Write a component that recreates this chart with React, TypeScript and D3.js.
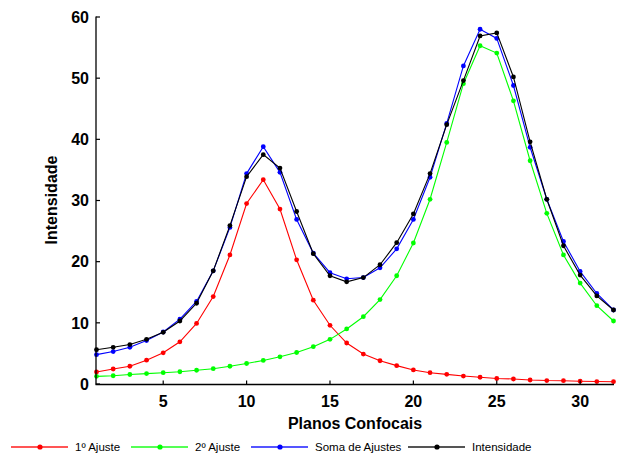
import React from "react";
import * as d3 from "d3";

const planos = [1, 2, 3, 4, 5, 6, 7, 8, 9, 10, 11, 12, 13, 14, 15, 16, 17, 18, 19, 20, 21, 22, 23, 24, 25, 26, 27, 28, 29, 30, 31, 32];

const ajuste1 = [1.96, 2.45, 2.9, 3.9, 5.1, 6.9, 9.9, 14.3, 21.1, 29.5, 33.4, 28.6, 20.3, 13.7, 9.6, 6.7, 4.9, 3.8, 3.0, 2.3, 1.85, 1.58, 1.3, 1.1, 0.9, 0.82, 0.65, 0.56, 0.54, 0.45, 0.4, 0.38];

const ajuste2 = [1.25, 1.35, 1.55, 1.7, 1.85, 2.0, 2.25, 2.5, 2.9, 3.35, 3.85, 4.45, 5.15, 6.1, 7.3, 9.0, 11.0, 13.8, 17.7, 23.05, 30.2, 39.5, 49.1, 55.3, 54.1, 46.3, 36.5, 27.9, 21.1, 16.5, 12.8, 10.3];

const somaAjustes = [4.8, 5.3, 6.0, 7.1, 8.5, 10.6, 13.5, 18.5, 25.6, 34.4, 38.8, 34.6, 26.9, 21.4, 18.2, 17.2, 17.4, 19.0, 22.1, 26.9, 33.8, 42.6, 52.0, 58.0, 56.5, 48.8, 38.7, 30.2, 23.3, 18.4, 14.8, 12.1];

const intensidade = [5.6, 6.0, 6.45, 7.3, 8.45, 10.3, 13.2, 18.5, 25.9, 33.9, 37.5, 35.3, 28.2, 21.3, 17.7, 16.7, 17.4, 19.5, 23.1, 27.8, 34.4, 42.4, 49.6, 56.9, 57.4, 50.2, 39.6, 30.2, 22.6, 17.8, 14.4, 12.1];

const xTicks = [5, 10, 15, 20, 25, 30];
const yTicks = [0, 10, 20, 30, 40, 50, 60];

const seriesNames = ["1º Ajuste", "2º Ajuste", "Soma de Ajustes", "Intensidade"];

const W = 637;
const H = 457;

export default function App() {
  const x = d3.scaleLinear().domain([1, 32]).range([96.5, 613.5]);
  const y = d3.scaleLinear().domain([0, 60]).range([384, 17]);

  const series = [
    { name: seriesNames[0], values: ajuste1, color: "#ff0000", legendColor: "#ff5555" },
    { name: seriesNames[1], values: ajuste2, color: "#00ff00", legendColor: "#55ff55" },
    { name: seriesNames[2], values: somaAjustes, color: "#0000ff", legendColor: "#5555ff" },
    { name: seriesNames[3], values: intensidade, color: "#000000", legendColor: "#555555" },
  ];

  const line = d3
    .line<number>()
    .x((_, i) => x(planos[i]))
    .y((d) => y(d));

  const legendX = [11, 131, 251, 408];
  const legendY = 447;
  const font = "'Liberation Sans', Arial, Helvetica, sans-serif";

  return (
    <svg
      width={W}
      height={H}
      style={{ position: "fixed", left: 0, top: 0, display: "block", background: "#fff" }}
    >
      <rect x={0} y={0} width={W} height={H} fill="#fff" />
      {/* series */}
      {series.map((s) => (
        <g key={s.name}>
          <path d={line(s.values) || ""} fill="none" stroke={s.color} strokeWidth={1.1} />
          {s.values.map((v, i) => (
            <circle key={i} cx={x(planos[i])} cy={y(v)} r={2.4} fill={s.color} />
          ))}
        </g>
      ))}
      {/* axes */}
      <line x1={96} x2={96} y1={16.5} y2={384.5} stroke="#000" strokeWidth={1.3} />
      <line x1={95.5} x2={614} y1={384.5} y2={384.5} stroke="#000" strokeWidth={1.3} />
      {yTicks.map((t) => (
        <g key={"y" + t}>
          <line x1={96} x2={100} y1={y(t)} y2={y(t)} stroke="#000" strokeWidth={1.2} />
          <text
            x={89}
            y={y(t)}
            dy="0.36em"
            textAnchor="end"
            fontFamily={font}
            fontWeight="bold"
            fontSize={16}
            fill="#000"
          >
            {t}
          </text>
        </g>
      ))}
      {xTicks.map((t) => (
        <g key={"x" + t}>
          <line x1={x(t)} x2={x(t)} y1={384.5} y2={380.5} stroke="#000" strokeWidth={1.2} />
          <text
            x={x(t)}
            y={407}
            textAnchor="middle"
            fontFamily={font}
            fontWeight="bold"
            fontSize={16}
            fill="#000"
          >
            {t}
          </text>
        </g>
      ))}
      <text
        x={355}
        y={429}
        textAnchor="middle"
        fontFamily={font}
        fontWeight="bold"
        fontSize={16}
        fill="#000"
      >
        Planos Confocais
      </text>
      <text
        transform={`translate(57,200) rotate(-90)`}
        textAnchor="middle"
        fontFamily={font}
        fontWeight="bold"
        fontSize={16}
        fill="#000"
      >
        Intensidade
      </text>
      {/* legend */}
      {series.map((s, i) => (
        <g key={"lg" + i}>
          <line
            x1={legendX[i]}
            x2={legendX[i] + 57}
            y1={legendY}
            y2={legendY}
            stroke={s.legendColor}
            strokeWidth={2}
          />
          <circle cx={legendX[i] + 29} cy={legendY} r={2.6} fill={s.color} />
          <text
            x={legendX[i] + 64}
            y={legendY}
            dy="0.36em"
            fontFamily="'Liberation Sans Narrow', 'Arial Narrow', 'Liberation Sans', Arial, sans-serif"
            fontSize={11.5}
            fill="#000"
          >
            {s.name}
          </text>
        </g>
      ))}
    </svg>
  );
}
